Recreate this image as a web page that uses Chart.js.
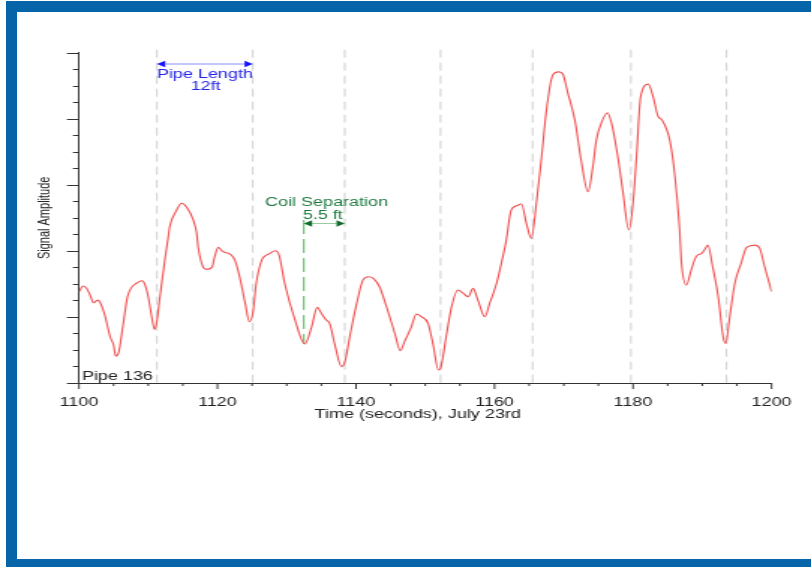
<!DOCTYPE html>
<html>
<head>
<meta charset="utf-8">
<script src="https://cdn.jsdelivr.net/npm/chart.js@4/dist/chart.umd.min.js"></script>
<style>
  html, body { margin: 0; padding: 0; background: #fff; width: 811px; height: 567px; overflow: hidden; }
  #wrap { position: absolute; left: 0; top: 0; width: 811px; height: 567px; }
  /* the plot is drawn narrow and widened sideways, like the original export */
  #plot { position: absolute; left: 0; top: 0; transform-origin: 0 0; transform: scaleX(1.4991); }
  .frame { position: absolute; background: #0565a8; }
</style>
</head>
<body>
<div id="wrap">
  <canvas id="plot" width="541" height="567"></canvas>
  <div class="frame" style="left:6px;top:1px;width:805px;height:11px"></div>
  <div class="frame" style="left:6px;top:1px;width:11px;height:566px"></div>
  <div class="frame" style="left:6px;top:559px;width:805px;height:8px"></div>
</div>
<script>
// Signal trace, pipe 136, July 23rd
const timeSec = [
  1100.0, 1100.6, 1101.1, 1101.6, 1102.1, 1102.7, 1103.0,
  1103.8, 1104.5, 1105.0, 1105.3, 1105.7,
  1106.4, 1107.0, 1107.6, 1108.3, 1109.1, 1109.5, 1110.0, 1110.5, 1110.9, 1111.2,
  1111.7, 1112.4, 1112.9, 1113.1, 1114.1, 1114.8, 1115.5, 1116.5, 1117.0, 1117.2,
  1117.9, 1118.4, 1119.2, 1119.6, 1120.1, 1120.8, 1121.8, 1122.5, 1123.2, 1124.0,
  1124.6, 1125.1, 1125.6, 1126.4, 1127.1, 1127.6, 1128.3, 1128.9, 1129.7, 1131.2,
  1132.6, 1133.6, 1134.4, 1135.0, 1135.7, 1136.2, 1136.9, 1137.9, 1138.4, 1139.1,
  1140.1, 1141.0, 1141.8, 1142.5, 1143.4, 1144.4, 1145.6, 1146.4, 1147.0, 1148.0,
  1148.7, 1149.5, 1150.4, 1151.1, 1151.9, 1152.2, 1153.1, 1153.8, 1154.7, 1155.5,
  1156.2, 1156.9, 1157.6, 1158.6, 1159.3, 1160.3, 1161.2, 1161.7, 1162.4, 1163.2,
  1163.9, 1164.6, 1165.3, 1166.1, 1166.8, 1167.5, 1168.4, 1169.2, 1169.8, 1170.6,
  1171.6, 1172.5, 1173.5, 1174.2, 1174.7, 1175.4, 1176.3, 1176.9, 1177.8, 1178.5,
  1179.4, 1180.0, 1180.5, 1181.1, 1182.2, 1182.9, 1183.6, 1184.2, 1185.3, 1186.0,
  1186.7, 1187.0, 1187.7, 1188.4, 1189.1, 1189.9, 1190.3, 1190.8, 1191.5, 1192.3,
  1193.0, 1193.4, 1193.9, 1194.7, 1195.6, 1196.4, 1197.6, 1198.3, 1199.0, 1200.0
];
const amplitude = [
  5.53, 5.87, 5.73, 5.33, 4.86, 5.02, 4.92,
  4.01, 2.80, 2.30, 1.63, 1.80,
  3.61, 5.22, 5.79, 6.04, 6.19, 5.99, 5.22, 4.01, 3.25, 3.61,
  5.22, 7.45, 8.86, 9.46, 10.47, 10.88, 10.67, 9.87, 9.06, 8.25,
  7.04, 6.88, 7.00, 7.65, 8.21, 7.95, 7.81, 7.45, 6.43, 4.82,
  3.71, 4.22, 6.04, 7.45, 7.75, 7.85, 8.01, 7.75, 6.04, 3.81,
  2.36, 3.41, 4.58, 4.22, 3.81, 3.61, 2.40, 0.99, 1.29, 2.80,
  4.82, 6.23, 6.43, 6.34, 5.83, 4.62, 3.01, 1.96, 2.50, 3.41,
  4.18, 4.01, 3.61, 2.40, 0.79, 0.89, 3.01, 4.62, 5.63, 5.43,
  5.22, 5.73, 5.02, 4.01, 4.82, 6.04, 7.65, 8.66, 10.47, 10.73,
  10.84, 9.67, 8.76, 11.08, 13.70, 16.53, 18.64, 18.84, 18.75, 17.54,
  15.92, 13.50, 11.58, 13.09, 14.71, 15.72, 16.36, 15.72, 13.70, 11.68,
  9.26, 10.88, 13.70, 17.33, 18.10, 17.33, 16.16, 15.92, 14.71, 12.69,
  9.46, 7.25, 5.93, 6.84, 7.65, 7.85, 8.05, 8.35, 7.04, 5.22,
  2.80, 2.40, 3.81, 6.04, 7.25, 8.21, 8.35, 8.15, 7.04, 5.53
];
// joint times (pipe boundaries)
const jointTimes = [1111.26, 1125.1, 1138.38, 1152.2, 1165.5, 1179.7, 1193.5];
// pipe length span and coil separation span
const pipeSpan = [1111.26, 1125.1];
const coilSpan = [1132.47, 1138.38];
const xTickLabels = ['1100', '1120', '1140', '1160', '1180', '1200'];

const FONT = '"Liberation Sans", Arial, Helvetica, sans-serif';

function arrow(ctx, x1, x2, y, headLen, headHalf, lineColor, headColor) {
  ctx.strokeStyle = lineColor;
  ctx.lineWidth = 1;
  ctx.beginPath();
  ctx.moveTo(x1 + headLen, y);
  ctx.lineTo(x2 - headLen, y);
  ctx.stroke();
  ctx.fillStyle = headColor;
  ctx.beginPath();
  ctx.moveTo(x1, y);
  ctx.lineTo(x1 + headLen, y - headHalf);
  ctx.lineTo(x1 + headLen, y + headHalf);
  ctx.closePath();
  ctx.fill();
  ctx.beginPath();
  ctx.moveTo(x2, y);
  ctx.lineTo(x2 - headLen, y - headHalf);
  ctx.lineTo(x2 - headLen, y + headHalf);
  ctx.closePath();
  ctx.fill();
}

const decor = {
  id: 'decor',
  beforeDatasetsDraw(chart) {
    const { ctx, chartArea: a, scales: { x } } = chart;
    ctx.save();
    ctx.strokeStyle = '#c8c8c8';
    ctx.lineWidth = 0.9;
    ctx.setLineDash([8, 5]);
    jointTimes.forEach(t => {
      const px = x.getPixelForValue(t);
      ctx.beginPath();
      ctx.moveTo(px, a.top - 3);
      ctx.lineTo(px, a.bottom);
      ctx.stroke();
    });
    // coil marker
    ctx.strokeStyle = '#3fb34f';
    ctx.setLineDash([14, 5]);
    const cx = x.getPixelForValue(coilSpan[0]);
    ctx.beginPath();
    ctx.moveTo(cx, 220);
    ctx.lineTo(cx, 344);
    ctx.stroke();
    ctx.restore();
  },
  afterDraw(chart) {
    const { ctx, chartArea: a, scales: { x, y } } = chart;
    ctx.save();
    // tick marks
    ctx.strokeStyle = '#333';
    ctx.lineWidth = 1;
    x.ticks.forEach(t => {
      const px = x.getPixelForValue(t.value);
      const len = t.value % 20 === 0 ? 6 : 3;
      ctx.beginPath();
      ctx.moveTo(px, a.bottom);
      ctx.lineTo(px, a.bottom + len);
      ctx.stroke();
    });
    y.ticks.forEach(t => {
      const py = Math.round(y.getPixelForValue(t.value)) + 0.5;
      const len = t.value % 4 === 0 ? 8 : 4;
      ctx.beginPath();
      ctx.moveTo(a.left - len, py);
      ctx.lineTo(a.left, py);
      ctx.stroke();
    });

    // pipe length annotation
    const p1 = x.getPixelForValue(pipeSpan[0]);
    const p2 = x.getPixelForValue(pipeSpan[1]);
    arrow(ctx, p1, p2, 64, 5.5, 3.2, '#8c8cff', '#1414ff');
    ctx.fillStyle = '#2424e6';
    ctx.font = '12px ' + FONT;
    ctx.textAlign = 'center';
    ctx.textBaseline = 'alphabetic';
    const pm = (p1 + p2) / 2;
    ctx.fillText('Pipe Length', pm, 78);
    ctx.fillText('12ft', pm + 0.5, 90);

    // coil separation annotation
    const c1 = x.getPixelForValue(coilSpan[0]);
    const c2 = x.getPixelForValue(coilSpan[1]);
    arrow(ctx, c1, c2, 223.5, 5.5, 3.2, '#9bc9a3', '#0f6b2c');
    ctx.fillStyle = '#1f7a40';
    ctx.fillText('Coil Separation', (c1 + c2) / 2 + 1.5, 206);
    ctx.fillText('5.5 ft', (c1 + c2) / 2 - 1, 218.5);

    // pipe id
    ctx.fillStyle = '#222';
    ctx.textAlign = 'left';
    ctx.fillText('Pipe 136', a.left + 2, 379.5);

    // axis title
    ctx.textAlign = 'center';
    ctx.fillText('Time (seconds), July 23rd', (a.left + a.right) / 2 - 5, 418);
    ctx.restore();
  }
};

new Chart(document.getElementById('plot'), {
  type: 'line',
  data: {
    datasets: [{
      data: timeSec.map((t, i) => ({ x: t, y: amplitude[i] })),
      borderColor: '#f05050',
      borderWidth: 1.1,
      pointRadius: 0,
      cubicInterpolationMode: 'monotone',
      fill: false
    }]
  },
  options: {
    responsive: false,
    animation: false,
    devicePixelRatio: 1,
    layout: { padding: { left: 0, top: 52.7, right: 26.33, bottom: 144 } },
    plugins: { legend: { display: false }, tooltip: { enabled: false } },
    scales: {
      x: {
        type: 'linear',
        min: 1100,
        max: 1200,
        grid: { display: false, drawTicks: false },
        border: { display: true, color: '#333', width: 1 },
        ticks: {
          stepSize: 5,
          autoSkip: false,
          maxRotation: 0,
          padding: 12,
          color: '#222',
          font: { family: FONT, size: 12 },
          callback: v => (v % 20 === 0 ? xTickLabels[(v - 1100) / 20] : '')
        },
        afterFit: s => { s.height = 40; }
      },
      y: {
        min: 0,
        max: 20,
        grid: { display: false, drawTicks: false },
        border: { display: true, color: '#333', width: 1 },
        ticks: { stepSize: 1, display: false },
        title: {
          display: true,
          text: 'Signal Amplitude',
          color: '#222',
          font: { family: FONT, size: 11 },
          padding: { top: 23.4, bottom: 0 }
        },
        afterFit: s => { s.width = 52.67; }
      }
    }
  },
  plugins: [decor]
});
</script>
</body>
</html>
